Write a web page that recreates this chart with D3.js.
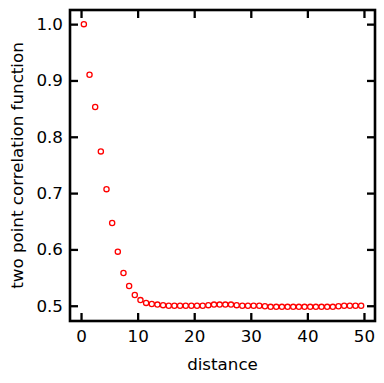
<!DOCTYPE html>
<html>
<head>
<meta charset="utf-8">
<script src="https://cdn.jsdelivr.net/npm/d3@7"></script>
<style>
  html, body { margin: 0; padding: 0; background: #fff; }
  svg { display: block; }
  text { font-family: "DejaVu Sans", sans-serif; }
</style>
</head>
<body>
<svg id="chart" width="384" height="383"></svg>
<script>
const distance = [0.5,1.5,2.5,3.5,4.5,5.5,6.5,7.5,8.5,9.5,10.5,11.5,12.5,13.5,14.5,15.5,16.5,17.5,18.5,19.5,20.5,21.5,22.5,23.5,24.5,25.5,26.5,27.5,28.5,29.5,30.5,31.5,32.5,33.5,34.5,35.5,36.5,37.5,38.5,39.5,40.5,41.5,42.5,43.5,44.5,45.5,46.5,47.5,48.5,49.5];
const correlation = [1.000,0.910,0.853,0.774,0.707,0.647,0.596,0.558,0.535,0.519,0.510,0.505,0.503,0.502,0.501,0.500,0.500,0.500,0.500,0.500,0.500,0.500,0.501,0.502,0.502,0.502,0.502,0.501,0.500,0.500,0.500,0.500,0.499,0.498,0.498,0.498,0.498,0.498,0.498,0.498,0.498,0.498,0.498,0.498,0.498,0.499,0.500,0.500,0.500,0.500];
const xTicks = [0,10,20,30,40,50];
const yTicks = [0.5,0.6,0.7,0.8,0.9,1.0];

const svg = d3.select("#chart");
const L = 70, R = 375, T = 10, B = 321;
const FS = 16.7;

const x = d3.scaleLinear().domain([-1.95, 51.95]).range([L, R]);
const y = d3.scaleLinear().domain([0.4729, 1.0251]).range([B, T]);

const tickLen = 8;
function styleAxis(g, hideText) {
  g.select(".domain").remove();
  g.selectAll(".tick line").attr("stroke", "#000").attr("stroke-width", 2.3);
  g.selectAll(".tick text").attr("font-size", FS).attr("fill", "#000");
  if (hideText) g.selectAll(".tick text").remove();
}

svg.append("g").attr("transform", `translate(0,${B})`)
  .call(d3.axisBottom(x).tickValues(xTicks).tickSizeInner(-tickLen).tickPadding(9).tickFormat(d3.format("d")))
  .call(g => styleAxis(g, false));
svg.append("g").attr("transform", `translate(0,${T})`)
  .call(d3.axisTop(x).tickValues(xTicks).tickSizeInner(-tickLen))
  .call(g => styleAxis(g, true));
svg.append("g").attr("transform", `translate(${L},0)`)
  .call(d3.axisLeft(y).tickValues(yTicks).tickSizeInner(-tickLen).tickPadding(7).tickFormat(d3.format(".1f")))
  .call(g => styleAxis(g, false));
svg.append("g").attr("transform", `translate(${R},0)`)
  .call(d3.axisRight(y).tickValues(yTicks).tickSizeInner(-tickLen))
  .call(g => styleAxis(g, true));

svg.append("rect").attr("x", L).attr("y", T).attr("width", R - L).attr("height", B - T)
  .attr("fill", "none").attr("stroke", "#000").attr("stroke-width", 2.6);

svg.append("g").selectAll("circle").data(distance).join("circle")
  .attr("cx", (d) => x(d))
  .attr("cy", (d, i) => y(correlation[i]))
  .attr("r", 2.6)
  .attr("fill", "none")
  .attr("stroke", "red")
  .attr("stroke-width", 1.3);

svg.append("text").attr("x", (L + R) / 2).attr("y", 370).attr("text-anchor", "middle")
  .attr("font-size", FS).text("distance");
svg.append("text").attr("transform", `translate(23,${(T + B) / 2}) rotate(-90)`)
  .attr("text-anchor", "middle").attr("font-size", FS).text("two point correlation function");
</script>
</body>
</html>
